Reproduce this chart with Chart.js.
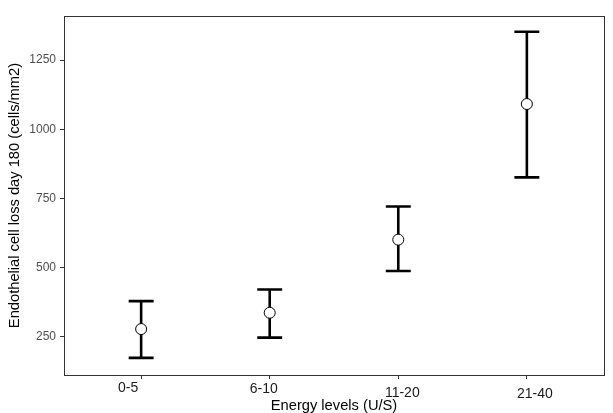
<!DOCTYPE html>
<html>
<head>
<meta charset="utf-8">
<script src="https://cdn.jsdelivr.net/npm/chart.js@4"></script>
<style>
  html, body { margin: 0; padding: 0; background: #fff; }
  #wrap { width: 613px; height: 413px; }
</style>
</head>
<body>
<div id="wrap"><canvas id="chart" width="613" height="413"></canvas></div>
<script>
(function() {
    'use strict';

    // data
    var categories = ['0-5', '6-10', '11-20', '21-40'];
    var means = [278, 337, 601, 1091];
    var lower = [174, 247, 488, 826];
    var upper = [379, 421, 721, 1352];
    var yTicks = [250, 500, 750, 1000, 1250];

    var points = categories.map(function(c, i) {
        return { x: i, y: means[i] };
    });

    // the x labels in the picture sit a little off their ticks
    var labelShiftX = [-13, -6, 4, 8],
        labelShiftY = [13, 14.5, 18, 19.5];

    var errorBars = {
        id: 'errorBars',
        beforeDatasetsDraw: function(chart) {
            var ctx = chart.ctx,
                xs = chart.scales.x,
                ys = chart.scales.y;
            ctx.save();
            ctx.strokeStyle = '#000';
            ctx.lineWidth = 2.6;
            ctx.lineCap = 'butt';
            for (var i = 0; i < categories.length; i++) {
                var px = xs.getPixelForValue(i),
                    capW = (xs.getPixelForValue(1) - xs.getPixelForValue(0)) * 0.097,
                    yl = ys.getPixelForValue(lower[i]),
                    yu = ys.getPixelForValue(upper[i]);
                ctx.beginPath();
                ctx.moveTo(px, yl);
                ctx.lineTo(px, yu);
                ctx.moveTo(px - capW, yu);
                ctx.lineTo(px + capW, yu);
                ctx.moveTo(px - capW, yl);
                ctx.lineTo(px + capW, yl);
                ctx.stroke();
            }
            ctx.restore();
        },
        afterDraw: function(chart) {
            var a = chart.chartArea, ctx = chart.ctx, xs = chart.scales.x;
            ctx.save();
            ctx.strokeStyle = '#333';
            ctx.lineWidth = 1;
            ctx.strokeRect(Math.round(a.left) + 0.5, Math.round(a.top) + 0.5,
                           Math.round(a.right - a.left), Math.round(a.bottom - a.top));

            // category labels
            ctx.fillStyle = '#1a1a1a';
            ctx.font = '14px "Liberation Sans"';
            ctx.textAlign = 'center';
            ctx.textBaseline = 'middle';
            for (var i = 0; i < categories.length; i++) {
                ctx.fillText(categories[i],
                             xs.getPixelForValue(i) + labelShiftX[i],
                             a.bottom + labelShiftY[i]);
            }
            ctx.restore();
        }
    };

    new Chart(document.getElementById('chart'), {
        type: 'scatter',
        data: {
            datasets: [{
                data: points,
                pointRadius: 5.5,
                pointHoverRadius: 5.5,
                pointBackgroundColor: '#fff',
                pointBorderColor: '#000',
                pointBorderWidth: 1
            }]
        },
        options: {
            responsive: false,
            animation: false,
            events: [],
            layout: { padding: { top: 16, right: 9, left: 0, bottom: 0 } },
            plugins: {
                legend: { display: false },
                tooltip: { enabled: false }
            },
            scales: {
                x: {
                    type: 'linear',
                    min: -0.6,
                    max: 3.6,
                    afterBuildTicks: function(scale) {
                        scale.ticks = categories.map(function(c, i) { return { value: i }; });
                    },
                    afterFit: function(scale) { scale.height = 38; },
                    grid: {
                        display: true,
                        drawOnChartArea: false,
                        drawTicks: true,
                        tickLength: 4,
                        tickWidth: 1,
                        color: '#333'
                    },
                    border: { display: false },
                    ticks: { display: false },
                    title: {
                        display: true,
                        text: 'Energy levels (U/S)',
                        color: '#000',
                        font: { family: 'Liberation Sans', size: 14.7, lineHeight: 1.0 },
                        padding: { top: 0, bottom: 0 }
                    }
                },
                y: {
                    min: 112,
                    max: 1409,
                    afterBuildTicks: function(scale) {
                        scale.ticks = yTicks.map(function(v) { return { value: v }; });
                    },
                    afterFit: function(scale) { scale.width = 64; },
                    grid: {
                        display: true,
                        drawOnChartArea: false,
                        drawTicks: true,
                        tickLength: 4,
                        tickWidth: 1,
                        color: '#333'
                    },
                    border: { display: false },
                    ticks: {
                        padding: 4,
                        color: '#4d4d4d',
                        font: { family: 'Liberation Sans', size: 12 },
                        callback: function(v) { return String(v); }
                    },
                    title: {
                        display: true,
                        text: 'Endothelial cell loss day 180 (cells/mm2)',
                        color: '#000',
                        font: { family: 'Liberation Sans', size: 14.7 },
                        padding: { top: 6, bottom: 0 }
                    }
                }
            }
        },
        plugins: [errorBars]
    });
})();
</script>
</body>
</html>
